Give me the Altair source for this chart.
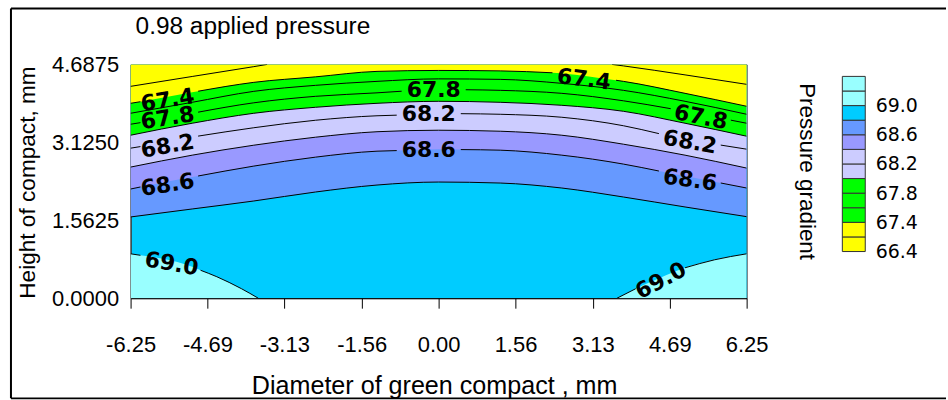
import altair as alt
import pandas as pd

# ---------------- data ----------------
X_DOMAIN = [-6.25, 6.25]
Y_DOMAIN = [0.0, 4.6875]
X_TICKS = [-6.25, -4.69, -3.13, -1.56, 0.0, 1.56, 3.13, 4.69, 6.25]
Y_TICKS = [0.0, 1.5625, 3.125, 4.6875]

COLS = [-6.25, -5.0, -3.75, -2.5, -1.25, 0.0, 1.25, 2.5, 3.75, 5.0, 6.25]
Y_674 = [3.908, 4.128, 4.328, 4.438, 4.548, 4.567, 4.558, 4.508, 4.348, 4.108, 3.848]
Y_676 = [3.708, 3.928, 4.148, 4.268, 4.348, 4.398, 4.388, 4.308, 4.168, 3.948, 3.688]
Y_678 = [3.488, 3.708, 3.918, 4.048, 4.118, 4.188, 4.168, 4.108, 3.958, 3.748, 3.508]
Y_680 = [3.268, 3.508, 3.708, 3.828, 3.908, 3.948, 3.928, 3.868, 3.748, 3.508, 3.248]
Y_682 = [3.008, 3.228, 3.418, 3.568, 3.658, 3.708, 3.688, 3.628, 3.458, 3.188, 2.988]
Y_684 = [2.629, 2.868, 3.068, 3.228, 3.338, 3.368, 3.348, 3.268, 3.088, 2.868, 2.609]
Y_686 = [2.189, 2.429, 2.649, 2.828, 2.948, 2.988, 2.968, 2.868, 2.689, 2.449, 2.209]
Y_688 = [1.629, 1.789, 1.949, 2.129, 2.269, 2.329, 2.309, 2.209, 2.029, 1.829, 1.635]

X_672_L = [-6.25, -5.0, -3.75, -3.48]
Y_672_L = [4.248, 4.446, 4.643, 4.6875]
X_672_R = [3.52, 3.75, 5.0, 6.25]
Y_672_R = [4.6875, 4.658, 4.478, 4.288]

X_690_L = [-6.25, -5.6, -5.0, -4.5, -4.0, -3.66]
Y_690_L = [0.89, 0.79, 0.63, 0.43, 0.19, 0.0]
X_690_R = [3.62, 4.0, 4.5, 5.0, 5.6, 6.25]
Y_690_R = [0.0, 0.19, 0.41, 0.61, 0.77, 0.89]

LEVELS = {
    "67.2": [(X_672_L, Y_672_L), (X_672_R, Y_672_R)],
    "67.4": [(COLS, Y_674)],
    "67.6": [(COLS, Y_676)],
    "67.8": [(COLS, Y_678)],
    "68.0": [(COLS, Y_680)],
    "68.2": [(COLS, Y_682)],
    "68.4": [(COLS, Y_684)],
    "68.6": [(COLS, Y_686)],
    "68.8": [(COLS, Y_688)],
    "69.0": [(X_690_L, Y_690_L), (X_690_R, Y_690_R)],
}

# where each contour line is interrupted by its label: (x start, y start, x end, y end)
GAPS = {
    "67.4": [(-6.05, 3.94, -4.88, 4.15), (2.31, 4.52, 3.60, 4.37)],
    "67.8": [(-6.05, 3.52, -4.88, 3.73), (-0.75, 4.15, 0.55, 4.18), (4.71, 3.80, 5.93, 3.57)],
    "68.2": [(-6.05, 3.04, -4.88, 3.25), (-0.85, 3.67, 0.45, 3.70), (4.47, 3.30, 5.725, 3.07)],
    "68.6": [(-6.05, 2.23, -4.88, 2.45), (-0.85, 2.96, 0.45, 2.98), (4.47, 2.55, 5.725, 2.31)],
    "69.0": [(-6.05, 0.86, -4.83, 0.56), (4.0, 0.19, 5.0, 0.61)],
}

# filled bands: level, colour, side that is filled
FILL_LEVELS = ["69.0", "68.8", "68.6", "68.4", "68.0", "67.4"]
FILL_COLORS = ["#99FFFF", "#6699FF", "#9999FF", "#CCCCFF", "#00FF00", "#FFFF00"]
FILL_SIDE = ["bottom", "top", "top", "top", "top", "top"]
BASE_COLOR = "#00CCFF"

LABEL_TEXT = ["67.4", "67.8", "68.2", "68.6", "69.0", "67.8", "68.2", "68.6",
              "67.4", "67.8", "68.2", "68.6", "69.0"]
LABEL_X = [-5.50, -5.50, -5.50, -5.50, -5.42, -0.10, -0.20, -0.20, 2.95, 5.32, 5.10, 5.10, 4.51]
LABEL_Y = [3.97, 3.61, 3.05, 2.27, 0.69, 4.17, 3.69, 2.97, 4.39, 3.63, 3.13, 2.37, 0.35]
LABEL_ANGLE = [351, 351, 350, 351, 10, 0, 0, 0, 7, 11, 10, 8, 332]

SWATCH_COLORS = ["#FFFF00", "#FFFF00", "#00FF00", "#00FF00", "#00FF00", "#CCCCFF",
                 "#CCCCFF", "#9999FF", "#6699FF", "#00CCFF", "#99FFFF", "#99FFFF"]
LEGEND_LABELS = ["66.4", "67.4", "67.8", "68.2", "68.6", "69.0"]
LEGEND_LABEL_POS = [0, 2, 4, 6, 8, 10]

# ---------------- tables ----------------
fill_rows, line_rows = [], []
for lev, pieces in LEVELS.items():
    gaps = GAPS.get(lev, [])
    side = FILL_SIDE[FILL_LEVELS.index(lev)] if lev in FILL_LEVELS else "top"
    edge = Y_DOMAIN[1] if side == "top" else Y_DOMAIN[0]
    for pi, (xs, ys) in enumerate(pieces):
        pts = dict(zip(xs, ys))
        lo, hi = min(xs), max(xs)
        for g in gaps:
            if lo <= g[0] <= hi:
                pts.setdefault(g[0], g[1])
            if lo <= g[2] <= hi:
                pts.setdefault(g[2], g[3])
        seg = 0
        for x in sorted(pts):
            fill_rows.append(dict(level=lev, piece=f"{lev}-{pi}", x=x, y=pts[x], edge=edge))
            if any(g[0] < x < g[2] for g in gaps):
                continue
            line_rows.append(dict(level=lev, seg=f"{lev}-{pi}-{seg}", x=x, y=pts[x]))
            if any(x == g[0] for g in gaps):
                seg += 1

fill_df = pd.DataFrame(fill_rows)
line_df = pd.DataFrame(line_rows)
label_df = pd.DataFrame({"t": LABEL_TEXT, "x": LABEL_X, "y": LABEL_Y, "a": LABEL_ANGLE})
leg_df = pd.DataFrame({"lo": list(range(12)), "hi": list(range(1, 13)), "c": SWATCH_COLORS,
                       "x0": [0] * 12, "x1": [1] * 12})

# ---------------- encodings ----------------
AXIS_FONT = "Liberation Sans"
X_ENC = alt.X(
    "x:Q",
    scale=alt.Scale(domain=X_DOMAIN, nice=False, zero=False),
    axis=alt.Axis(
        values=X_TICKS, format=".2f", labelExpr="replace(datum.label, '\u2212', '-')",
        title="Diameter of green compact , mm", grid=False,
        tickSize=10, tickColor="black", tickWidth=1, domainColor="black", domainWidth=1,
        labelFont=AXIS_FONT, labelFontSize=22, labelPadding=43, labelBaseline="alphabetic",
        labelFlush=False, labelColor="black",
        titleFont=AXIS_FONT, titleFontSize=25.2, titleFontWeight="normal", titleColor="black",
        titleX=304.5, titleY=95.8, titleBaseline="alphabetic", titleAlign="center",
    ),
)
Y_ENC = alt.Y(
    "y:Q",
    scale=alt.Scale(domain=Y_DOMAIN, nice=False, zero=False),
    axis=alt.Axis(
        values=Y_TICKS, format=".4f", title="Height of compact, mm", grid=False,
        ticks=False, domainColor="#333333", labelFont=AXIS_FONT, labelFontSize=22,
        labelPadding=12, labelFlush=False, labelColor="black",
        titleFont=AXIS_FONT, titleFontSize=22.7, titleFontWeight="normal", titleColor="black",
        titleX=-103, titleY=118, titleAngle=270, titleAlign="center", titleBaseline="middle",
    ),
)

layers = []
for lev, col in zip(FILL_LEVELS, FILL_COLORS):
    layers.append(
        alt.Chart(fill_df)
        .transform_filter(alt.datum.level == lev)
        .mark_area(interpolate="monotone", color=col, clip=True, opacity=1)
        .encode(x=X_ENC, y=Y_ENC, y2=alt.Y2("edge:Q"), detail="piece:N")
    )
layers.append(
    alt.Chart(line_df)
    .mark_line(interpolate="monotone", color="black", strokeWidth=1, clip=True)
    .encode(x=X_ENC, y=Y_ENC, detail="seg:N")
)
layers.append(
    alt.Chart(label_df)
    .mark_text(font="DejaVu Sans", fontSize=22, fontWeight="bold", color="black",
               align="center", baseline="middle")
    .encode(x=X_ENC, y=Y_ENC, text="t:N", angle=alt.Angle("a:Q", scale=None))
)

main = alt.layer(*layers).properties(
    width=618,
    height=234.5,
    title=alt.TitleParams("0.98 applied pressure", anchor="start", frame="group",
                          font=AXIS_FONT, fontSize=24.5, fontWeight="normal", color="black",
                          dx=5, dy=4, offset=18),
    view=alt.ViewBackground(fill=BASE_COLOR, stroke="#444444", strokeWidth=1),
)

# ---------------- colour bar ----------------
LEG_SCALE = alt.Scale(domain=[-3.197, 12.82], nice=False, zero=False)
LEG_X = alt.X("x0:Q", scale=alt.Scale(domain=[0, 1], nice=False, zero=False), axis=None)
label_expr = "[" + ",".join(f"'{t}'" for t in LEGEND_LABELS) + "][round(datum.value / 2)]"
leg_rect = alt.Chart(leg_df).mark_rect(stroke="#333333", strokeWidth=1).encode(
    x=LEG_X, x2="x1:Q",
    y=alt.Y("lo:Q", scale=LEG_SCALE, axis=alt.Axis(
        orient="right", values=LEGEND_LABEL_POS, labelExpr=label_expr, ticks=False,
        domain=False, grid=False, title=None, labelPadding=10, labelFont="DejaVu Sans",
        labelFontSize=19, labelColor="black", labelBaseline="middle")),
    y2="hi:Q",
    color=alt.Color("c:N", scale=None),
)
leg_title = alt.Chart(leg_df).mark_rect(opacity=0).encode(
    x=LEG_X, x2="x1:Q",
    y=alt.Y("lo:Q", scale=LEG_SCALE, axis=alt.Axis(
        orient="left", labels=False, ticks=False, domain=False, grid=False,
        title="Pressure gradient", titleFont=AXIS_FONT, titleFontSize=22.5,
        titleFontWeight="normal", titleColor="black", titleAngle=90,
        titleX=-36, titleY=107, titleAlign="center", titleBaseline="middle")),
    y2="hi:Q",
)
frame_df = pd.DataFrame({"k": [0]})
frame = [
    alt.Chart(frame_df).mark_rule(color="black", strokeWidth=2).encode(
        x=alt.value(-834), y=alt.value(-56), y2=alt.value(335)),
    alt.Chart(frame_df).mark_rule(color="black", strokeWidth=2).encode(
        x=alt.value(-834), x2=alt.value(104), y=alt.value(-56)),
    alt.Chart(frame_df).mark_rule(color="black", strokeWidth=2).encode(
        x=alt.value(-834), x2=alt.value(104), y=alt.value(335)),
]
legend = alt.layer(leg_rect, leg_title, *frame).resolve_axis(y="independent").properties(
    width=23, height=234.5, view=alt.ViewBackground(stroke="transparent"))

chart = alt.hconcat(main, legend, spacing=96, bounds="flush").properties(
    padding={"left": 9, "top": 6, "right": 0, "bottom": 0}, background="white"
).configure(font=AXIS_FONT)

chart.save("out.html", embed_options={"renderer": "svg", "actions": False})
